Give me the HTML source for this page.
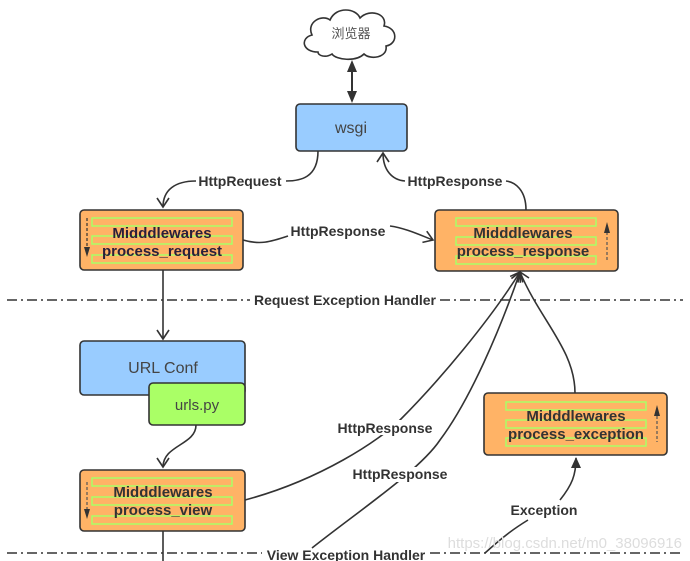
<!DOCTYPE html>
<html><head><meta charset="utf-8"><style>
html,body{margin:0;padding:0;background:#fff;}
svg{display:block;}
text{font-family:"Liberation Sans","DejaVu Sans","Noto Sans CJK SC",sans-serif;}
.b{font-weight:bold;font-size:15px;fill:#333;}
.l{font-weight:bold;font-size:14px;fill:#333;}
</style></head><body>
<svg width="690" height="561" viewBox="0 0 690 561" xmlns="http://www.w3.org/2000/svg">
<defs>
<marker id="op" markerWidth="14" markerHeight="14" refX="10" refY="7" orient="auto" markerUnits="userSpaceOnUse"><path d="M1,1 L10,7 L1,13" fill="none" stroke="#333" stroke-width="1.6"/></marker>
<marker id="fl" markerWidth="12" markerHeight="12" refX="10" refY="6" orient="auto" markerUnits="userSpaceOnUse"><path d="M0,1 L11,6 L0,11 Z" fill="#333"/></marker>
</defs>
<!-- cloud -->
<path d="M318,52 C302,52 300,38 312,35 C306,22 322,14 330,20 C336,6 356,8 360,18 C370,8 388,14 384,26 C398,28 398,44 386,46 C388,58 370,60 364,54 C356,62 336,60 332,54 C326,58 318,56 318,52 Z" fill="#fff" stroke="#333" stroke-width="1.6"/>
<text x="351" y="38" font-size="13" fill="#555" text-anchor="middle">浏览器</text>
<line x1="352" y1="68" x2="352" y2="95" stroke="#333" stroke-width="2"/>
<path d="M347,72 L352,60 L357,72 Z M347,91 L352,103 L357,91 Z" fill="#333"/>
<!-- wsgi -->
<rect x="296" y="104" width="111" height="47" rx="4" fill="#99ccff" stroke="#333" stroke-width="1.6"/>
<text x="351" y="133" font-size="16" fill="#444" text-anchor="middle">wsgi</text>
<!-- HttpRequest -->
<path d="M318,151 C318,178 300,181 286,181 M196,181 C175,181 163,190 163,207" fill="none" stroke="#333" stroke-width="1.6" marker-end="url(#op)"/>
<text x="240" y="186" class="l" text-anchor="middle">HttpRequest</text>
<!-- HttpResponse up -->
<path d="M526,210 C526,190 515,182 506,181 M405,181 C392,180 383,170 383,153" fill="none" stroke="#333" stroke-width="1.6" marker-end="url(#op)"/>
<text x="455" y="186" class="l" text-anchor="middle">HttpResponse</text>
<!-- request box -->
<rect x="80" y="210" width="163" height="60" rx="4" fill="#ffb366" stroke="#333" stroke-width="1.6"/>
<g fill="none" stroke="#aaff66" stroke-width="1.5"><rect x="92" y="218" width="140" height="8"/><rect x="92" y="236" width="140" height="8"/><rect x="92" y="255" width="140" height="8"/></g>
<line x1="87" y1="218" x2="87" y2="248" stroke="#333" stroke-dasharray="3,2" stroke-width="1.2"/><path d="M84,247 L87,257 L90,247Z" fill="#333"/>
<text x="162" y="238" class="b" text-anchor="middle" style="fill:#2a1f3a">Midddlewares</text>
<text x="162" y="256" class="b" text-anchor="middle" style="fill:#2a1f3a">process_request</text>
<!-- HttpResponse middle -->
<path d="M243,240 C260,245 270,242 288,236 M390,226 C405,228 420,235 433,240" fill="none" stroke="#333" stroke-width="1.6" marker-end="url(#op)"/>
<text x="338" y="236" class="l" text-anchor="middle">HttpResponse</text>
<!-- response box -->
<rect x="435" y="210" width="183" height="61" rx="4" fill="#ffb366" stroke="#333" stroke-width="1.6"/>
<g fill="none" stroke="#aaff66" stroke-width="1.5"><rect x="456" y="218" width="140" height="8"/><rect x="456" y="237" width="140" height="8"/><rect x="456" y="256" width="140" height="8"/></g>
<line x1="607" y1="232" x2="607" y2="260" stroke="#555" stroke-dasharray="3,2" stroke-width="1.2"/><path d="M604,233 L607,222 L610,233Z" fill="#333"/>
<text x="523" y="238" class="b" text-anchor="middle">Midddlewares</text>
<text x="523" y="256" class="b" text-anchor="middle">process_response</text>
<!-- request exception line -->
<line x1="7" y1="300" x2="250" y2="300" stroke="#333" stroke-width="1.4" stroke-dasharray="10,4,2,4"/>
<line x1="440" y1="300" x2="683" y2="300" stroke="#333" stroke-width="1.4" stroke-dasharray="10,4,2,4"/>
<text x="345" y="305" class="l" text-anchor="middle">Request Exception Handler</text>
<line x1="163" y1="270" x2="163" y2="339" stroke="#333" stroke-width="1.6" marker-end="url(#op)"/>
<!-- url conf -->
<rect x="80" y="341" width="165" height="54" rx="4" fill="#99ccff" stroke="#333" stroke-width="1.6"/>
<text x="163" y="373" font-size="16" fill="#444" text-anchor="middle">URL Conf</text>
<rect x="149" y="383" width="96" height="42" rx="4" fill="#aaff66" stroke="#333" stroke-width="1.6"/>
<text x="197" y="410" font-size="15" fill="#444" text-anchor="middle">urls.py</text>
<path d="M196,425 C196,445 163,445 163,467" fill="none" stroke="#333" stroke-width="1.6" marker-end="url(#op)"/>
<!-- view box -->
<rect x="80" y="470" width="165" height="61" rx="4" fill="#ffb366" stroke="#333" stroke-width="1.6"/>
<g fill="none" stroke="#aaff66" stroke-width="1.5"><rect x="92" y="478" width="140" height="8"/><rect x="92" y="497" width="140" height="8"/><rect x="92" y="516" width="140" height="8"/></g>
<line x1="87" y1="482" x2="87" y2="510" stroke="#555" stroke-dasharray="3,2" stroke-width="1.2"/><path d="M84,509 L87,519 L90,509Z" fill="#333"/>
<text x="163" y="497" class="b" text-anchor="middle">Midddlewares</text>
<text x="163" y="515" class="b" text-anchor="middle">process_view</text>
<line x1="163" y1="531" x2="163" y2="561" stroke="#333" stroke-width="1.6"/>
<!-- HttpResponse from view -->
<path d="M245,500 C320,480 380,440 400,420 C440,380 490,320 520,272" fill="none" stroke="#333" stroke-width="1.6" marker-end="url(#op)"/>
<rect x="333" y="420" width="104" height="15" fill="#fff"/>
<text x="385" y="433" class="l" text-anchor="middle">HttpResponse</text>
<path d="M312,548 C360,510 420,470 440,440 C470,400 500,330 520,272" fill="none" stroke="#333" stroke-width="1.6" marker-end="url(#op)"/>
<rect x="348" y="467" width="104" height="15" fill="#fff"/>
<text x="400" y="479" class="l" text-anchor="middle">HttpResponse</text>
<path d="M575,393 C575,350 540,320 520,272" fill="none" stroke="#333" stroke-width="1.6" marker-end="url(#op)"/>
<!-- exception box -->
<rect x="484" y="393" width="183" height="62" rx="4" fill="#ffb366" stroke="#333" stroke-width="1.6"/>
<g fill="none" stroke="#aaff66" stroke-width="1.5"><rect x="506" y="402" width="140" height="8"/><rect x="506" y="420" width="140" height="8"/><rect x="506" y="438" width="140" height="8"/></g>
<line x1="657" y1="416" x2="657" y2="442" stroke="#555" stroke-dasharray="3,2" stroke-width="1.2"/><path d="M654,416 L657,405 L660,416Z" fill="#333"/>
<text x="576" y="421" class="b" text-anchor="middle">Midddlewares</text>
<text x="576" y="439" class="b" text-anchor="middle">process_exception</text>
<path d="M485,553 C505,535 515,528 528,520 M560,500 C572,485 576,475 576,458" fill="none" stroke="#333" stroke-width="1.6" marker-end="url(#fl)"/>
<text x="544" y="515" class="l" text-anchor="middle">Exception</text>
<!-- view exception line -->
<line x1="7" y1="553" x2="262" y2="553" stroke="#333" stroke-width="1.4" stroke-dasharray="10,4,2,4"/>
<line x1="430" y1="553" x2="683" y2="553" stroke="#333" stroke-width="1.4" stroke-dasharray="10,4,2,4"/>
<text x="346" y="560" class="l" text-anchor="middle">View Exception Handler</text>
<text x="682" y="548" font-size="15" fill="#ddd" text-anchor="end">https://blog.csdn.net/m0_38096916</text>
</svg>
</body></html>
